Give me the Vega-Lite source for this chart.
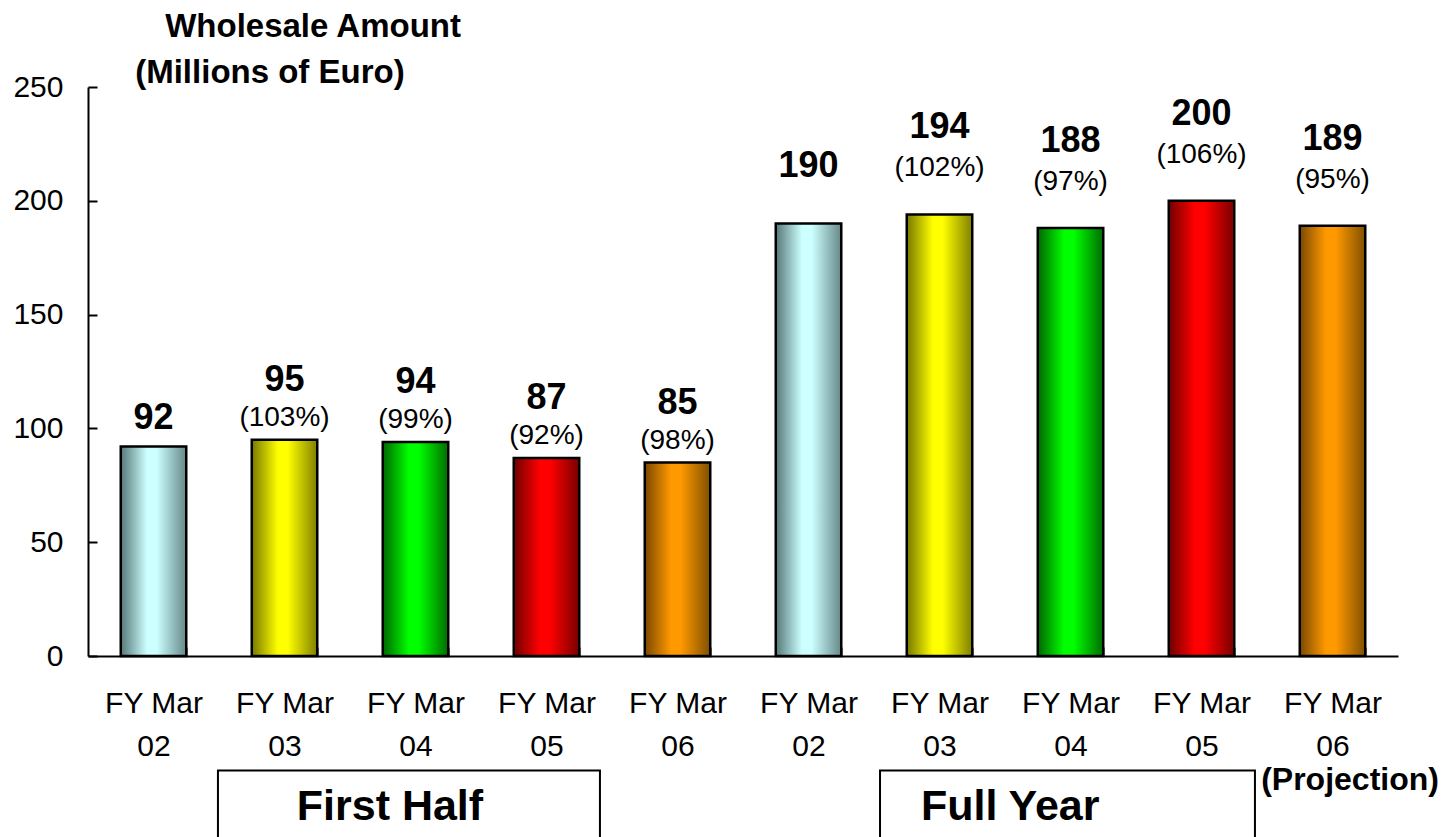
{
  "$schema": "https://vega.github.io/schema/vega-lite/v6.json",
  "autosize": {"type": "none"},
  "width": 1310,
  "height": 569,
  "padding": {"left": 88, "top": 87, "right": 48, "bottom": 181},
  "background": "white",
  "config": {"view": {"stroke": null}, "font": "Liberation Sans"},
  "resolve": {"scale": {"x": "independent"}, "axis": {"x": "independent"}},
  "layer": [
    {
      "data": {"values": [
        {"category": "First Half 02", "group": "First Half", "year": "02", "value": 92, "pct": null},
        {"category": "First Half 03", "group": "First Half", "year": "03", "value": 95, "pct": "(103%)"},
        {"category": "First Half 04", "group": "First Half", "year": "04", "value": 94, "pct": "(99%)"},
        {"category": "First Half 05", "group": "First Half", "year": "05", "value": 87, "pct": "(92%)"},
        {"category": "First Half 06", "group": "First Half", "year": "06", "value": 85, "pct": "(98%)"},
        {"category": "Full Year 02", "group": "Full Year", "year": "02", "value": 190, "pct": null},
        {"category": "Full Year 03", "group": "Full Year", "year": "03", "value": 194, "pct": "(102%)"},
        {"category": "Full Year 04", "group": "Full Year", "year": "04", "value": 188, "pct": "(97%)"},
        {"category": "Full Year 05", "group": "Full Year", "year": "05", "value": 200, "pct": "(106%)"},
        {"category": "Full Year 06", "group": "Full Year", "year": "06", "value": 189, "pct": "(95%)"}
      ]},
      "encoding": {
        "x": {
          "field": "category", "type": "nominal", "sort": null,
          "scale": {"paddingInner": 0.5, "paddingOuter": 0.25},
          "axis": {
            "title": null, "labelAngle": 0, "tickBand": "extent", "tickSize": -9,
            "tickColor": "black", "tickWidth": 2, "domainColor": "black", "domainWidth": 2,
            "labelExpr": "indexof(datum.label + '', ' 0') >= 0 ? ['FY Mar', substring(datum.label, length(datum.label)-2)] : ''",
            "labelLineHeight": 43, "labelFontSize": 30, "labelFont": "Liberation Sans",
            "labelColor": "black", "labelPadding": 41, "grid": false, "labelOverlap": false
          }
        },
        "y": {
          "field": "value", "type": "quantitative",
          "scale": {"domain": [0, 250], "nice": false},
          "axis": {
            "title": null, "values": [0, 50, 100, 150, 200, 250], "grid": false,
            "tickSize": -9, "tickColor": "black", "tickWidth": 2,
            "domainColor": "black", "domainWidth": 2,
            "labelFontSize": 30, "labelFont": "Liberation Sans", "labelColor": "black",
            "labelPadding": 34
          }
        }
      },
      "layer": [
        {
          "mark": {"type": "bar", "stroke": "black", "strokeWidth": 2.5},
          "encoding": {
            "fill": {
              "condition": [
                {"test": "datum.year === '02'", "value": {"gradient": "linear", "x1": 0, "x2": 1, "y1": 0, "y2": 0, "stops": [{"offset": 0, "color": "#567777"}, {"offset": 0.4, "color": "#ccffff"}, {"offset": 0.55, "color": "#ccffff"}, {"offset": 1, "color": "#668888"}]}},
                {"test": "datum.year === '03'", "value": {"gradient": "linear", "x1": 0, "x2": 1, "y1": 0, "y2": 0, "stops": [{"offset": 0, "color": "#787800"}, {"offset": 0.4, "color": "#ffff00"}, {"offset": 0.55, "color": "#ffff00"}, {"offset": 1, "color": "#808000"}]}},
                {"test": "datum.year === '04'", "value": {"gradient": "linear", "x1": 0, "x2": 1, "y1": 0, "y2": 0, "stops": [{"offset": 0, "color": "#006600"}, {"offset": 0.4, "color": "#00ff00"}, {"offset": 0.55, "color": "#00ff00"}, {"offset": 1, "color": "#006c00"}]}},
                {"test": "datum.year === '05'", "value": {"gradient": "linear", "x1": 0, "x2": 1, "y1": 0, "y2": 0, "stops": [{"offset": 0, "color": "#700000"}, {"offset": 0.4, "color": "#ff0000"}, {"offset": 0.55, "color": "#ff0000"}, {"offset": 1, "color": "#780000"}]}}
              ],
              "value": {"gradient": "linear", "x1": 0, "x2": 1, "y1": 0, "y2": 0, "stops": [{"offset": 0, "color": "#7a4800"}, {"offset": 0.4, "color": "#ff9900"}, {"offset": 0.55, "color": "#ff9900"}, {"offset": 1, "color": "#805000"}]}
            }
          }
        },
        {
          "transform": [{"filter": "datum.group === 'First Half' && datum.pct != null"}],
          "mark": {"type": "text", "fontSize": 36, "fontWeight": "bold", "font": "Liberation Sans", "baseline": "middle", "dy": -60, "color": "black"},
          "encoding": {"text": {"field": "value", "type": "quantitative"}}
        },
        {
          "transform": [{"filter": "datum.group === 'First Half' && datum.pct == null"}],
          "mark": {"type": "text", "fontSize": 36, "fontWeight": "bold", "font": "Liberation Sans", "baseline": "middle", "dy": -29, "color": "black"},
          "encoding": {"text": {"field": "value", "type": "quantitative"}}
        },
        {
          "transform": [{"filter": "datum.group === 'First Half' && datum.pct != null"}],
          "mark": {"type": "text", "fontSize": 28, "font": "Liberation Sans", "baseline": "middle", "dy": -22, "color": "black"},
          "encoding": {"text": {"field": "pct", "type": "nominal"}}
        },
        {
          "transform": [{"filter": "datum.group === 'Full Year' && datum.pct != null"}],
          "mark": {"type": "text", "fontSize": 36, "fontWeight": "bold", "font": "Liberation Sans", "baseline": "middle", "dy": -87, "color": "black"},
          "encoding": {"text": {"field": "value", "type": "quantitative"}}
        },
        {
          "transform": [{"filter": "datum.group === 'Full Year' && datum.pct == null"}],
          "mark": {"type": "text", "fontSize": 36, "fontWeight": "bold", "font": "Liberation Sans", "baseline": "middle", "dy": -58, "color": "black"},
          "encoding": {"text": {"field": "value", "type": "quantitative"}}
        },
        {
          "transform": [{"filter": "datum.group === 'Full Year' && datum.pct != null"}],
          "mark": {"type": "text", "fontSize": 28, "font": "Liberation Sans", "baseline": "middle", "dy": -46, "color": "black"},
          "encoding": {"text": {"field": "pct", "type": "nominal"}}
        }
      ]
    },
    {
      "data": {"values": [{}]},
      "layer": [
        {
          "mark": {"type": "rect", "filled": false, "stroke": "black", "strokeWidth": 2, "clip": false},
          "encoding": {
            "x": {"datum": 0.992, "type": "quantitative", "scale": {"domain": [0, 10]}, "axis": null},
            "x2": {"datum": 3.908},
            "y": {"datum": -50.3, "type": "quantitative", "scale": {"domain": [0, 250], "nice": false}},
            "y2": {"datum": -130}
          }
        },
        {
          "mark": {"type": "rect", "filled": false, "stroke": "black", "strokeWidth": 2, "clip": false},
          "encoding": {
            "x": {"datum": 6.046, "type": "quantitative", "scale": {"domain": [0, 10]}, "axis": null},
            "x2": {"datum": 8.908},
            "y": {"datum": -50.3, "type": "quantitative", "scale": {"domain": [0, 250], "nice": false}},
            "y2": {"datum": -130}
          }
        },
        {
          "mark": {"type": "text", "fontSize": 43, "fontWeight": "bold", "font": "Liberation Sans", "baseline": "middle", "color": "black"},
          "encoding": {
            "x": {"datum": 2.305, "type": "quantitative", "scale": {"domain": [0, 10]}, "axis": null},
            "y": {"datum": -66.3, "type": "quantitative", "scale": {"domain": [0, 250], "nice": false}},
            "text": {"value": "First Half"}
          }
        },
        {
          "mark": {"type": "text", "fontSize": 43, "fontWeight": "bold", "font": "Liberation Sans", "baseline": "middle", "color": "black"},
          "encoding": {
            "x": {"datum": 7.04, "type": "quantitative", "scale": {"domain": [0, 10]}, "axis": null},
            "y": {"datum": -66.3, "type": "quantitative", "scale": {"domain": [0, 250], "nice": false}},
            "text": {"value": "Full Year"}
          }
        },
        {
          "mark": {"type": "text", "fontSize": 32, "fontWeight": "bold", "font": "Liberation Sans", "baseline": "middle", "color": "black"},
          "encoding": {
            "x": {"datum": 9.634, "type": "quantitative", "scale": {"domain": [0, 10]}, "axis": null},
            "y": {"datum": -54.6, "type": "quantitative", "scale": {"domain": [0, 250], "nice": false}},
            "text": {"value": "(Projection)"}
          }
        },
        {
          "mark": {"type": "text", "fontSize": 33, "fontWeight": "bold", "font": "Liberation Sans", "baseline": "middle", "color": "black"},
          "encoding": {
            "x": {"datum": 1.718, "type": "quantitative", "scale": {"domain": [0, 10]}, "axis": null},
            "y": {"datum": 276.4, "type": "quantitative", "scale": {"domain": [0, 250], "nice": false}},
            "text": {"value": "Wholesale Amount"}
          }
        },
        {
          "mark": {"type": "text", "fontSize": 33, "fontWeight": "bold", "font": "Liberation Sans", "baseline": "middle", "color": "black"},
          "encoding": {
            "x": {"datum": 1.389, "type": "quantitative", "scale": {"domain": [0, 10]}, "axis": null},
            "y": {"datum": 256.2, "type": "quantitative", "scale": {"domain": [0, 250], "nice": false}},
            "text": {"value": "(Millions of Euro)"}
          }
        }
      ]
    }
  ]
}
